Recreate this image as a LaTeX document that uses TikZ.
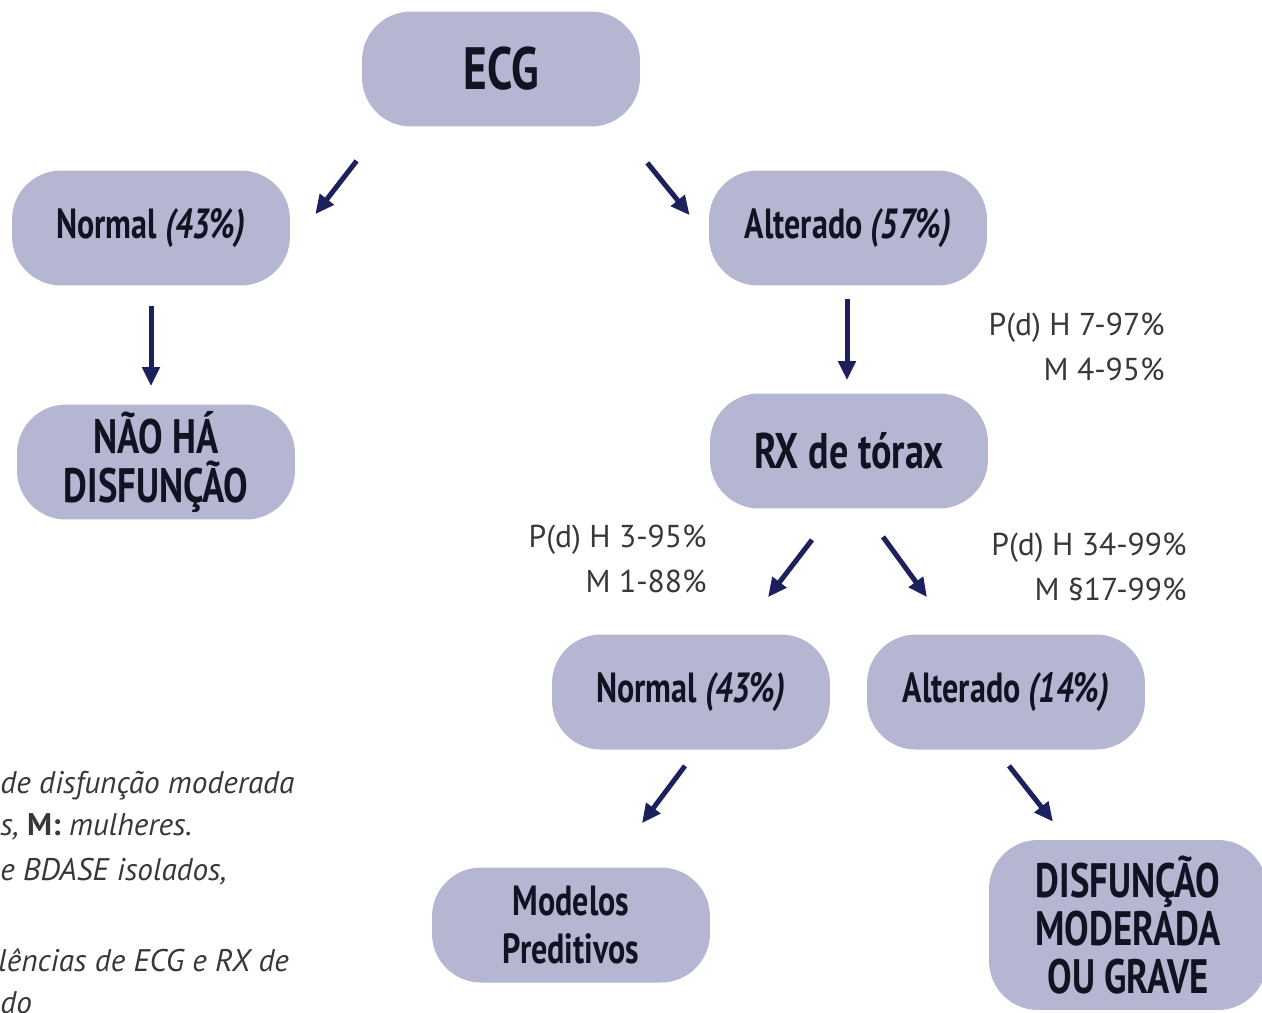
\documentclass[tikz,border=0pt]{standalone}
\usepackage{fontspec}
\setmainfont{PT Sans}
\newfontfamily\nodefont{PT Sans}[FakeStretch=0.76]
\newfontfamily\labfont{PT Sans}
\usetikzlibrary{arrows.meta,calc}
\definecolor{boxfill}{RGB}{181,182,210}
\definecolor{arrowcol}{RGB}{28,32,92}
\definecolor{txtcol}{RGB}{18,18,34}
\definecolor{labcol}{RGB}{55,55,60}
\tikzset{
  pill/.style={fill=boxfill, rounded corners=0.98cm, minimum width=5.56cm, minimum height=2.3cm,
    inner sep=0pt, align=center, text=txtcol, font=\nodefont\bfseries\fontsize{24}{27.5}\selectfont},
  capsfont/.style={font=\nodefont\bfseries\fontsize{27.5}{27.5}\selectfont},
  arr/.style={draw=arrowcol, line width=0.1cm, -{Triangle[length=0.38cm,width=0.34cm]}},
  lab/.style={align=right, text=labcol, inner sep=0pt, font=\labfont\fontsize{18}{25.5}\selectfont},
  note/.style={anchor=west, inner sep=0pt, text=labcol, font=\labfont\itshape\fontsize{17.8}{18}\selectfont}
}
\begin{document}
\begin{tikzpicture}[x=0.02cm,y=-0.02cm]
\useasboundingbox (0,0) rectangle (1262,1012);
\clip (0,0) rectangle (1262,1012);
\node[pill, font=\nodefont\bfseries\fontsize{34}{34}\selectfont] (ecg) at (501,69) {ECG};
\node[pill] (n1) at (151,228) {Normal \textit{(43\%)}};
\node[pill] (a1) at (848,228) {Alterado \textit{(57\%)}};
\node[pill, capsfont] (nh) at (156,462) {NÃO HÁ\\DISFUNÇÃO};
\node[pill, font=\nodefont\bfseries\fontsize{28.5}{28}\selectfont] (rx) at (849,451) {RX de tórax};
\node[pill] (n2) at (691,692) {Normal \textit{(43\%)}};
\node[pill] (a2) at (1006,692) {Alterado \textit{(14\%)}};
\node[pill] (mp) at (571,925) {Modelos\\Preditivos};
\node[pill, capsfont, minimum height=3.4cm] (dg) at (1128,925) {DISFUNÇÃO\\MODERADA\\OU GRAVE};

\draw[arr] ($(ecg.south west)+(-5,34)$) -- ($(n1.north east)+(25,44)$);
\draw[arr] ($(ecg.south east)+(7,36)$) -- ($(a1.north west)+(-19,45)$);
\draw[arr] ($(n1.south)+(0,20)$) -- ($(nh.north)+(-5,-18)$);
\draw[arr] ($(a1.south)+(-1,13)$) -- ($(rx.north)+(-2,-13)$);
\draw[arr] ($(rx.south)+(-37,31)$) -- ($(n2.north)+(77,-37)$);
\draw[arr] ($(rx.south)+(34,28)$) -- ($(a2.north)+(-79,-37)$);
\draw[arr] ($(n2.south)+(-6,16)$) -- ($(mp.north)+(71,-44)$);
\draw[arr] ($(a2.south)+(3,16)$) -- ($(dg.north)+(-75,-18)$);

\node[lab, anchor=east] (l1) at (1165,347) {P(d) H 7-97\%\\M 4-95\%};
\node[lab, anchor=east] (l2) at (707,559) {P(d) H 3-95\%\\M 1-88\%};
\node[lab, anchor=east] (l3) at (1187,567) {P(d) H 34-99\%\\M §17-99\%};

\node[note] (t1) at (0,786) {de disfunção moderada};
\node[note] (t2) at (0,827) {s, \textbf{\upshape M:} mulheres.};
\node[note] (t3) at (0,872) {e BDASE isolados,};
\node[note] (t4) at (-2,960) {lências de ECG e RX de};
\node[note] (t5) at (0,1003) {do};
\end{tikzpicture}
\end{document}
